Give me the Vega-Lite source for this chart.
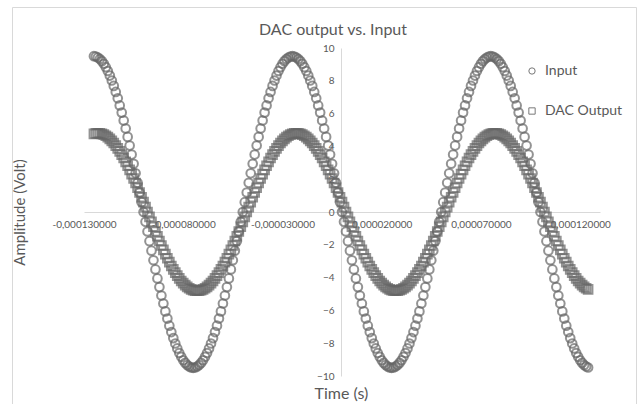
{
  "$schema": "https://vega.github.io/schema/vega-lite/v6.json",
  "autosize": "none",
  "width": 624,
  "height": 404,
  "padding": {"left": 12, "top": 7, "right": 3, "bottom": 0},
  "background": "white",
  "config": {"view": {"stroke": "#d9d9d9", "strokeWidth": 1}, "font": "Lato", "axis": {"labelColor": "#595959", "titleColor": "#595959"}},
  "title": {"text": "DAC output vs. Input", "font": "Lato", "fontSize": 16, "fontWeight": "normal", "color": "#595959", "anchor": "middle", "frame": "group", "offset": -23, "baseline": "middle", "dx": 9, "dy": 16},
  "datasets": {
    "input": [
      {"t":-125,"v":9.5},{"t":-124,"v":9.48},{"t":-123,"v":9.42},{"t":-122,"v":9.33},{"t":-121,"v":9.2},{"t":-120,"v":9.04},{"t":-119,"v":8.83},{"t":-118,"v":8.6},{"t":-117,"v":8.32},{"t":-116,"v":8.02},{"t":-115,"v":7.69},{"t":-114,"v":7.32},{"t":-113,"v":6.93},{"t":-112,"v":6.5},{"t":-111,"v":6.06},{"t":-110,"v":5.58},{"t":-109,"v":5.09},{"t":-108,"v":4.58},{"t":-107,"v":4.05},{"t":-106,"v":3.5},{"t":-105,"v":2.94},{"t":-104,"v":2.36},{"t":-103,"v":1.78},{"t":-102,"v":1.19},{"t":-101,"v":0.6},{"t":-100,"v":0},
      {"t":-99,"v":-0.6},{"t":-98,"v":-1.19},{"t":-97,"v":-1.78},{"t":-96,"v":-2.36},{"t":-95,"v":-2.94},{"t":-94,"v":-3.5},{"t":-93,"v":-4.05},{"t":-92,"v":-4.58},{"t":-91,"v":-5.09},{"t":-90,"v":-5.58},{"t":-89,"v":-6.06},{"t":-88,"v":-6.5},{"t":-87,"v":-6.93},{"t":-86,"v":-7.32},{"t":-85,"v":-7.69},{"t":-84,"v":-8.02},{"t":-83,"v":-8.32},{"t":-82,"v":-8.6},{"t":-81,"v":-8.83},{"t":-80,"v":-9.04},{"t":-79,"v":-9.2},{"t":-78,"v":-9.33},{"t":-77,"v":-9.42},{"t":-76,"v":-9.48},{"t":-75,"v":-9.5},
      {"t":-74,"v":-9.48},{"t":-73,"v":-9.42},{"t":-72,"v":-9.33},{"t":-71,"v":-9.2},{"t":-70,"v":-9.04},{"t":-69,"v":-8.83},{"t":-68,"v":-8.6},{"t":-67,"v":-8.32},{"t":-66,"v":-8.02},{"t":-65,"v":-7.69},{"t":-64,"v":-7.32},{"t":-63,"v":-6.93},{"t":-62,"v":-6.5},{"t":-61,"v":-6.06},{"t":-60,"v":-5.58},{"t":-59,"v":-5.09},{"t":-58,"v":-4.58},{"t":-57,"v":-4.05},{"t":-56,"v":-3.5},{"t":-55,"v":-2.94},{"t":-54,"v":-2.36},{"t":-53,"v":-1.78},{"t":-52,"v":-1.19},{"t":-51,"v":-0.6},{"t":-50,"v":0},
      {"t":-49,"v":0.6},{"t":-48,"v":1.19},{"t":-47,"v":1.78},{"t":-46,"v":2.36},{"t":-45,"v":2.94},{"t":-44,"v":3.5},{"t":-43,"v":4.05},{"t":-42,"v":4.58},{"t":-41,"v":5.09},{"t":-40,"v":5.58},{"t":-39,"v":6.06},{"t":-38,"v":6.5},{"t":-37,"v":6.93},{"t":-36,"v":7.32},{"t":-35,"v":7.69},{"t":-34,"v":8.02},{"t":-33,"v":8.32},{"t":-32,"v":8.6},{"t":-31,"v":8.83},{"t":-30,"v":9.04},{"t":-29,"v":9.2},{"t":-28,"v":9.33},{"t":-27,"v":9.42},{"t":-26,"v":9.48},{"t":-25,"v":9.5},
      {"t":-24,"v":9.48},{"t":-23,"v":9.42},{"t":-22,"v":9.33},{"t":-21,"v":9.2},{"t":-20,"v":9.04},{"t":-19,"v":8.83},{"t":-18,"v":8.6},{"t":-17,"v":8.32},{"t":-16,"v":8.02},{"t":-15,"v":7.69},{"t":-14,"v":7.32},{"t":-13,"v":6.93},{"t":-12,"v":6.5},{"t":-11,"v":6.06},{"t":-10,"v":5.58},{"t":-9,"v":5.09},{"t":-8,"v":4.58},{"t":-7,"v":4.05},{"t":-6,"v":3.5},{"t":-5,"v":2.94},{"t":-4,"v":2.36},{"t":-3,"v":1.78},{"t":-2,"v":1.19},{"t":-1,"v":0.6},{"t":0,"v":0},
      {"t":1,"v":-0.6},{"t":2,"v":-1.19},{"t":3,"v":-1.78},{"t":4,"v":-2.36},{"t":5,"v":-2.94},{"t":6,"v":-3.5},{"t":7,"v":-4.05},{"t":8,"v":-4.58},{"t":9,"v":-5.09},{"t":10,"v":-5.58},{"t":11,"v":-6.06},{"t":12,"v":-6.5},{"t":13,"v":-6.93},{"t":14,"v":-7.32},{"t":15,"v":-7.69},{"t":16,"v":-8.02},{"t":17,"v":-8.32},{"t":18,"v":-8.6},{"t":19,"v":-8.83},{"t":20,"v":-9.04},{"t":21,"v":-9.2},{"t":22,"v":-9.33},{"t":23,"v":-9.42},{"t":24,"v":-9.48},{"t":25,"v":-9.5},
      {"t":26,"v":-9.48},{"t":27,"v":-9.42},{"t":28,"v":-9.33},{"t":29,"v":-9.2},{"t":30,"v":-9.04},{"t":31,"v":-8.83},{"t":32,"v":-8.6},{"t":33,"v":-8.32},{"t":34,"v":-8.02},{"t":35,"v":-7.69},{"t":36,"v":-7.32},{"t":37,"v":-6.93},{"t":38,"v":-6.5},{"t":39,"v":-6.06},{"t":40,"v":-5.58},{"t":41,"v":-5.09},{"t":42,"v":-4.58},{"t":43,"v":-4.05},{"t":44,"v":-3.5},{"t":45,"v":-2.94},{"t":46,"v":-2.36},{"t":47,"v":-1.78},{"t":48,"v":-1.19},{"t":49,"v":-0.6},{"t":50,"v":0},
      {"t":51,"v":0.6},{"t":52,"v":1.19},{"t":53,"v":1.78},{"t":54,"v":2.36},{"t":55,"v":2.94},{"t":56,"v":3.5},{"t":57,"v":4.05},{"t":58,"v":4.58},{"t":59,"v":5.09},{"t":60,"v":5.58},{"t":61,"v":6.06},{"t":62,"v":6.5},{"t":63,"v":6.93},{"t":64,"v":7.32},{"t":65,"v":7.69},{"t":66,"v":8.02},{"t":67,"v":8.32},{"t":68,"v":8.6},{"t":69,"v":8.83},{"t":70,"v":9.04},{"t":71,"v":9.2},{"t":72,"v":9.33},{"t":73,"v":9.42},{"t":74,"v":9.48},{"t":75,"v":9.5},
      {"t":76,"v":9.48},{"t":77,"v":9.42},{"t":78,"v":9.33},{"t":79,"v":9.2},{"t":80,"v":9.04},{"t":81,"v":8.83},{"t":82,"v":8.6},{"t":83,"v":8.32},{"t":84,"v":8.02},{"t":85,"v":7.69},{"t":86,"v":7.32},{"t":87,"v":6.93},{"t":88,"v":6.5},{"t":89,"v":6.06},{"t":90,"v":5.58},{"t":91,"v":5.09},{"t":92,"v":4.58},{"t":93,"v":4.05},{"t":94,"v":3.5},{"t":95,"v":2.94},{"t":96,"v":2.36},{"t":97,"v":1.78},{"t":98,"v":1.19},{"t":99,"v":0.6},{"t":100,"v":0},
      {"t":101,"v":-0.6},{"t":102,"v":-1.19},{"t":103,"v":-1.78},{"t":104,"v":-2.36},{"t":105,"v":-2.94},{"t":106,"v":-3.5},{"t":107,"v":-4.05},{"t":108,"v":-4.58},{"t":109,"v":-5.09},{"t":110,"v":-5.58},{"t":111,"v":-6.06},{"t":112,"v":-6.5},{"t":113,"v":-6.93},{"t":114,"v":-7.32},{"t":115,"v":-7.69},{"t":116,"v":-8.02},{"t":117,"v":-8.32},{"t":118,"v":-8.6},{"t":119,"v":-8.83},{"t":120,"v":-9.04},{"t":121,"v":-9.2},{"t":122,"v":-9.33},{"t":123,"v":-9.42},{"t":124,"v":-9.48}
    ],
    "dac": [
      {"t":-125,"v":4.76},{"t":-124,"v":4.79},{"t":-123,"v":4.8},
      {"t":-122,"v":4.79},{"t":-121,"v":4.76},{"t":-120,"v":4.72},{"t":-119,"v":4.65},{"t":-118,"v":4.57},{"t":-117,"v":4.46},{"t":-116,"v":4.34},{"t":-115,"v":4.21},{"t":-114,"v":4.05},{"t":-113,"v":3.88},{"t":-112,"v":3.7},{"t":-111,"v":3.5},{"t":-110,"v":3.29},{"t":-109,"v":3.06},{"t":-108,"v":2.82},{"t":-107,"v":2.57},{"t":-106,"v":2.31},{"t":-105,"v":2.04},{"t":-104,"v":1.77},{"t":-103,"v":1.48},{"t":-102,"v":1.19},{"t":-101,"v":0.9},{"t":-100,"v":0.6},{"t":-99,"v":0.3},{"t":-98,"v":0},
      {"t":-97,"v":-0.3},{"t":-96,"v":-0.6},{"t":-95,"v":-0.9},{"t":-94,"v":-1.19},{"t":-93,"v":-1.48},{"t":-92,"v":-1.77},{"t":-91,"v":-2.04},{"t":-90,"v":-2.31},{"t":-89,"v":-2.57},{"t":-88,"v":-2.82},{"t":-87,"v":-3.06},{"t":-86,"v":-3.29},{"t":-85,"v":-3.5},{"t":-84,"v":-3.7},{"t":-83,"v":-3.88},{"t":-82,"v":-4.05},{"t":-81,"v":-4.21},{"t":-80,"v":-4.34},{"t":-79,"v":-4.46},{"t":-78,"v":-4.57},{"t":-77,"v":-4.65},{"t":-76,"v":-4.72},{"t":-75,"v":-4.76},{"t":-74,"v":-4.79},{"t":-73,"v":-4.8},
      {"t":-72,"v":-4.79},{"t":-71,"v":-4.76},{"t":-70,"v":-4.72},{"t":-69,"v":-4.65},{"t":-68,"v":-4.57},{"t":-67,"v":-4.46},{"t":-66,"v":-4.34},{"t":-65,"v":-4.21},{"t":-64,"v":-4.05},{"t":-63,"v":-3.88},{"t":-62,"v":-3.7},{"t":-61,"v":-3.5},{"t":-60,"v":-3.29},{"t":-59,"v":-3.06},{"t":-58,"v":-2.82},{"t":-57,"v":-2.57},{"t":-56,"v":-2.31},{"t":-55,"v":-2.04},{"t":-54,"v":-1.77},{"t":-53,"v":-1.48},{"t":-52,"v":-1.19},{"t":-51,"v":-0.9},{"t":-50,"v":-0.6},{"t":-49,"v":-0.3},{"t":-48,"v":0},
      {"t":-47,"v":0.3},{"t":-46,"v":0.6},{"t":-45,"v":0.9},{"t":-44,"v":1.19},{"t":-43,"v":1.48},{"t":-42,"v":1.77},{"t":-41,"v":2.04},{"t":-40,"v":2.31},{"t":-39,"v":2.57},{"t":-38,"v":2.82},{"t":-37,"v":3.06},{"t":-36,"v":3.29},{"t":-35,"v":3.5},{"t":-34,"v":3.7},{"t":-33,"v":3.88},{"t":-32,"v":4.05},{"t":-31,"v":4.21},{"t":-30,"v":4.34},{"t":-29,"v":4.46},{"t":-28,"v":4.57},{"t":-27,"v":4.65},{"t":-26,"v":4.72},{"t":-25,"v":4.76},{"t":-24,"v":4.79},{"t":-23,"v":4.8},
      {"t":-22,"v":4.79},{"t":-21,"v":4.76},{"t":-20,"v":4.72},{"t":-19,"v":4.65},{"t":-18,"v":4.57},{"t":-17,"v":4.46},{"t":-16,"v":4.34},{"t":-15,"v":4.21},{"t":-14,"v":4.05},{"t":-13,"v":3.88},{"t":-12,"v":3.7},{"t":-11,"v":3.5},{"t":-10,"v":3.29},{"t":-9,"v":3.06},{"t":-8,"v":2.82},{"t":-7,"v":2.57},{"t":-6,"v":2.31},{"t":-5,"v":2.04},{"t":-4,"v":1.77},{"t":-3,"v":1.48},{"t":-2,"v":1.19},{"t":-1,"v":0.9},{"t":0,"v":0.6},{"t":1,"v":0.3},{"t":2,"v":0},
      {"t":3,"v":-0.3},{"t":4,"v":-0.6},{"t":5,"v":-0.9},{"t":6,"v":-1.19},{"t":7,"v":-1.48},{"t":8,"v":-1.77},{"t":9,"v":-2.04},{"t":10,"v":-2.31},{"t":11,"v":-2.57},{"t":12,"v":-2.82},{"t":13,"v":-3.06},{"t":14,"v":-3.29},{"t":15,"v":-3.5},{"t":16,"v":-3.7},{"t":17,"v":-3.88},{"t":18,"v":-4.05},{"t":19,"v":-4.21},{"t":20,"v":-4.34},{"t":21,"v":-4.46},{"t":22,"v":-4.57},{"t":23,"v":-4.65},{"t":24,"v":-4.72},{"t":25,"v":-4.76},{"t":26,"v":-4.79},{"t":27,"v":-4.8},
      {"t":28,"v":-4.79},{"t":29,"v":-4.76},{"t":30,"v":-4.72},{"t":31,"v":-4.65},{"t":32,"v":-4.57},{"t":33,"v":-4.46},{"t":34,"v":-4.34},{"t":35,"v":-4.21},{"t":36,"v":-4.05},{"t":37,"v":-3.88},{"t":38,"v":-3.7},{"t":39,"v":-3.5},{"t":40,"v":-3.29},{"t":41,"v":-3.06},{"t":42,"v":-2.82},{"t":43,"v":-2.57},{"t":44,"v":-2.31},{"t":45,"v":-2.04},{"t":46,"v":-1.77},{"t":47,"v":-1.48},{"t":48,"v":-1.19},{"t":49,"v":-0.9},{"t":50,"v":-0.6},{"t":51,"v":-0.3},{"t":52,"v":0},
      {"t":53,"v":0.3},{"t":54,"v":0.6},{"t":55,"v":0.9},{"t":56,"v":1.19},{"t":57,"v":1.48},{"t":58,"v":1.77},{"t":59,"v":2.04},{"t":60,"v":2.31},{"t":61,"v":2.57},{"t":62,"v":2.82},{"t":63,"v":3.06},{"t":64,"v":3.29},{"t":65,"v":3.5},{"t":66,"v":3.7},{"t":67,"v":3.88},{"t":68,"v":4.05},{"t":69,"v":4.21},{"t":70,"v":4.34},{"t":71,"v":4.46},{"t":72,"v":4.57},{"t":73,"v":4.65},{"t":74,"v":4.72},{"t":75,"v":4.76},{"t":76,"v":4.79},{"t":77,"v":4.8},
      {"t":78,"v":4.79},{"t":79,"v":4.76},{"t":80,"v":4.72},{"t":81,"v":4.65},{"t":82,"v":4.57},{"t":83,"v":4.46},{"t":84,"v":4.34},{"t":85,"v":4.21},{"t":86,"v":4.05},{"t":87,"v":3.88},{"t":88,"v":3.7},{"t":89,"v":3.5},{"t":90,"v":3.29},{"t":91,"v":3.06},{"t":92,"v":2.82},{"t":93,"v":2.57},{"t":94,"v":2.31},{"t":95,"v":2.04},{"t":96,"v":1.77},{"t":97,"v":1.48},{"t":98,"v":1.19},{"t":99,"v":0.9},{"t":100,"v":0.6},{"t":101,"v":0.3},{"t":102,"v":0},
      {"t":103,"v":-0.3},{"t":104,"v":-0.6},{"t":105,"v":-0.9},{"t":106,"v":-1.19},{"t":107,"v":-1.48},{"t":108,"v":-1.77},{"t":109,"v":-2.04},{"t":110,"v":-2.31},{"t":111,"v":-2.57},{"t":112,"v":-2.82},{"t":113,"v":-3.06},{"t":114,"v":-3.29},{"t":115,"v":-3.5},{"t":116,"v":-3.7},{"t":117,"v":-3.88},{"t":118,"v":-4.05},{"t":119,"v":-4.21},{"t":120,"v":-4.34},{"t":121,"v":-4.46},{"t":122,"v":-4.57},{"t":123,"v":-4.65},{"t":124,"v":-4.72}
    ]
  },
  "layer": [
    {
      "data": {"name": "input"},
      "mark": {"type": "point", "filled": false, "color": "#666666", "size": 75, "strokeWidth": 2},
      "encoding": {
        "x": {
          "field": "t", "type": "quantitative",
          "scale": {"domain": [-130, 130], "range": [72, 588], "nice": false, "zero": false},
          "axis": {
            "orient": "bottom", "offset": -199,
            "values": [-130, -80, -30, 20, 70, 120],
            "labelExpr": "(datum.value < 0 ? '-' : '') + replace(format(abs(datum.value) / 1000000, '.9f'), '.', ',')",
            "grid": false, "ticks": false, "tickSize": 0,
            "domainColor": "#d9d9d9", "domainWidth": 1,
            "labelPadding": 7, "labelFontSize": 10, "labelColor": "#595959", "labelFont": "Lato",
            "labelOverlap": false, "labelFlush": false,
            "title": "Time (s)", "titleX": 329, "titleY": 181, "titleAlign": "center", "titleBaseline": "middle",
            "titleFontSize": 16, "titleFontWeight": "normal", "titleColor": "#595959", "titleFont": "Lato"
          }
        },
        "y": {
          "field": "v", "type": "quantitative",
          "scale": {"domain": [-10, 10], "range": [369, 41], "nice": false},
          "axis": {
            "orient": "left", "offset": -329,
            "values": [-10, -8, -6, -4, -2, 0, 2, 4, 6, 8, 10],
            "grid": false, "ticks": false, "tickSize": 0,
            "domainColor": "#d9d9d9", "domainWidth": 1,
            "labelPadding": 7, "labelFontSize": 10, "labelColor": "#595959", "labelFont": "Lato",
            "labelOverlap": false,
            "title": "Amplitude (Volt)", "titleX": -322, "titleY": 205, "titleAngle": -90, "titleAlign": "center", "titleBaseline": "middle",
            "titleFontSize": 15, "titleFontWeight": "normal", "titleColor": "#595959", "titleFont": "Lato"
          }
        },
        "shape": {
          "datum": "Input", "type": "nominal",
          "scale": {"domain": ["Input", "DAC Output"], "range": ["circle", "square"]},
          "legend": {
            "orient": "none", "legendX": 513, "legendY": 57, "title": null, "direction": "vertical",
            "labelFontSize": 14, "labelColor": "#595959", "labelFont": "Lato",
            "symbolSize": 40, "symbolStrokeColor": "#404040", "symbolFillColor": "white", "symbolStrokeWidth": 1,
            "rowPadding": 26, "labelOffset": 6
          }
        }
      }
    },
    {
      "data": {"name": "dac"},
      "mark": {"type": "point", "filled": false, "color": "#666666", "size": 75, "strokeWidth": 2},
      "encoding": {
        "x": {"field": "t", "type": "quantitative"},
        "y": {"field": "v", "type": "quantitative"},
        "shape": {"datum": "DAC Output", "type": "nominal"}
      }
    }
  ]
}
